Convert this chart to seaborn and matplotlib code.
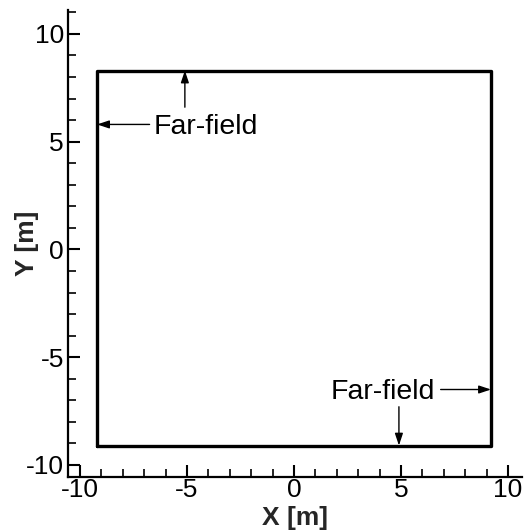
import matplotlib
matplotlib.use("Agg")
import matplotlib.pyplot as plt
from matplotlib.ticker import MultipleLocator
import pandas as pd
import seaborn as sns

# Far-field boundary of the computational domain (closed loop)
boundary_x = [-9.2, 9.2, 9.2, -9.2, -9.2]
boundary_y = [-9.1, -9.1, 8.3, 8.3, -9.1]

# Boundary labels: text anchor, alignment, and the arrows pointing to the boundary
label_text = ["Far-field", "Far-field"]
label_xy = [(-6.55, 5.68), (6.6, -6.6)]
label_ha = ["left", "right"]
arrow_starts = [[(-6.75, 5.8), (-5.1, 6.6)], [(6.85, -6.5), (4.9, -7.3)]]
arrow_targets = [[(-9.2, 5.8), (-5.1, 8.3)], [(9.2, -6.5), (4.9, -9.1)]]

x_ticks = [-10, -5, 0, 5, 10]
y_ticks = [-10, -5, 0, 5, 10]

sns.set_theme(style="ticks")
plt.rcParams["font.family"] = ["Liberation Sans", "DejaVu Sans"]

fig = plt.figure(figsize=(5.25, 5.31), dpi=100)
ax = fig.add_axes([68 / 525, (531 - 477) / 531, (522 - 68) / 525, (477 - 10) / 531])

df = pd.DataFrame({"x": boundary_x, "y": boundary_y})
sns.lineplot(data=df, x="x", y="y", sort=False, estimator=None,
             color="black", linewidth=2.4, ax=ax)

for txt, (tx, ty), ha, starts, targets in zip(label_text, label_xy, label_ha,
                                             arrow_starts, arrow_targets):
    ax.text(tx, ty, txt, ha=ha, va="center", fontsize=20.5, color="black")
    for s, t in zip(starts, targets):
        ax.annotate("", xy=t, xytext=s,
                    arrowprops=dict(arrowstyle="-|>,head_length=0.6,head_width=0.2",
                                    color="black", lw=1.0, shrinkA=0, shrinkB=0))

ax.set_xlim(-10.56, 10.65)
ax.set_ylim(-10.56, 11.11)
ax.set_aspect("auto")

ax.set_xticks(x_ticks)
ax.set_yticks(y_ticks)
ax.set_xticklabels([str(v) for v in x_ticks])
ax.set_yticklabels([str(v) for v in y_ticks])
ax.xaxis.set_minor_locator(MultipleLocator(1))
ax.yaxis.set_minor_locator(MultipleLocator(1))

ax.tick_params(which="major", direction="in", length=8.6, width=1.5,
               labelsize=19, colors="black")
ax.tick_params(which="minor", direction="in", length=5.5, width=1.2, colors="black")
ax.tick_params(axis="x", which="major", pad=1)
ax.tick_params(axis="y", which="major", pad=3)

for side in ("top", "right"):
    ax.spines[side].set_visible(False)
for side in ("left", "bottom"):
    ax.spines[side].set_linewidth(1.6)
    ax.spines[side].set_color("black")

ax.set_xlabel("X [m]", fontsize=19, fontweight="bold")
ax.set_ylabel("Y [m]", fontsize=19, fontweight="bold")
ax.xaxis.label.set_va("center")
ax.yaxis.label.set_va("center")
ax.xaxis.set_label_coords(0.5, (477 - 518) / 467)
ax.yaxis.set_label_coords((27 - 68) / 454, 0.5)

fig.savefig("out.png", dpi=100)
